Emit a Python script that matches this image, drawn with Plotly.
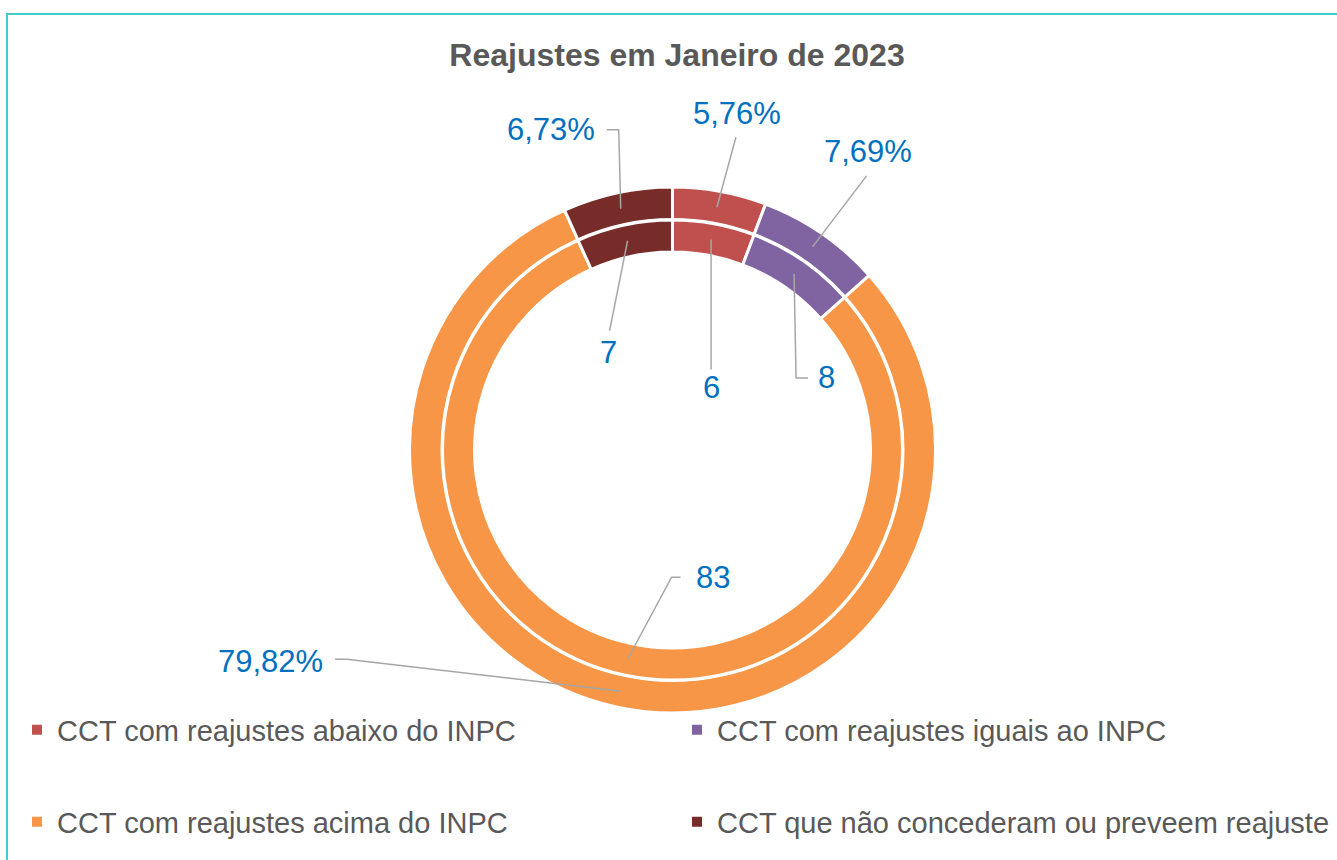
import math
import plotly.graph_objects as go

# ---------------- data ----------------
title_text = "Reajustes em Janeiro de 2023"
categories = [
    "CCT com reajustes abaixo do INPC",
    "CCT com reajustes iguais ao INPC",
    "CCT com reajustes acima do INPC",
    "CCT que não concederam ou preveem reajuste",
]
percent_values = [5.76, 7.69, 79.82, 6.73]
percent_labels = ["5,76%", "7,69%", "79,82%", "6,73%"]
count_values = [6, 8, 83, 7]
count_labels = ["6", "8", "83", "7"]
colors = ["#C0504D", "#8064A2", "#F79646", "#772C2A"]

# ---------------- layout constants ----------------
W, H = 1337, 860
CX, CY = 672.5, 450
LINE_W = 3
R_OUT, R_OUT_HOLE = 263, 230.5
R_IN, R_IN_HOLE = 230, 198
LABEL_COLOR = "#0070C0"
LEADER_COLOR = "#A6A6A6"
TEXT_GRAY = "#595959"
FONT = "Liberation Sans, Arial, sans-serif"


def fx(p):
    return p / W


def fy(p):
    return 1 - p / H


def ring_anchor(values, idx, r):
    total = sum(values)
    cum = sum(values[:idx]) + values[idx] / 2
    theta = 2 * math.pi * cum / total
    return CX + r * math.sin(theta), CY - r * math.cos(theta)


fig = go.Figure()

fig.add_trace(go.Pie(
    values=percent_values, labels=categories, text=percent_labels,
    marker=dict(colors=colors, line=dict(color="white", width=LINE_W)),
    hole=R_OUT_HOLE / R_OUT, sort=False, direction="clockwise", rotation=0,
    textinfo="none", hoverinfo="label+text", showlegend=False,
    domain=dict(x=[fx(CX - R_OUT), fx(CX + R_OUT)], y=[fy(CY + R_OUT), fy(CY - R_OUT)]),
))
fig.add_trace(go.Pie(
    values=count_values, labels=categories, text=count_labels,
    marker=dict(colors=colors, line=dict(color="white", width=LINE_W)),
    hole=R_IN_HOLE / R_IN, sort=False, direction="clockwise", rotation=0,
    textinfo="none", hoverinfo="label+text", showlegend=False,
    domain=dict(x=[fx(CX - R_IN), fx(CX + R_IN)], y=[fy(CY + R_IN), fy(CY - R_IN)]),
))

# leader lines / labels (offsets in pixels from the slice anchor)
outer_leaders = [
    dict(path=[(19, -70)], label=(20, -94), xanchor="center"),
    dict(path=[(54, -71)], label=(55, -95), xanchor="center"),
    dict(path=[(-274, -32), (-286, -32)], label=(-296, -30), xanchor="right"),
    dict(path=[(-2, -79), (-14, -79)], label=(-24, -79), xanchor="right"),
]
inner_leaders = [
    dict(path=[(0, 130)], label=(0, 148), xanchor="center"),
    dict(path=[(2, 104), (14, 104)], label=(22, 104), xanchor="left"),
    dict(path=[(44, -82), (53, -82)], label=(66, -82), xanchor="left"),
    dict(path=[(-18, 90)], label=(-19, 112), xanchor="center"),
]

shapes = []
annotations = []
for values, labels, leaders, rmid in [
    (percent_values, percent_labels, outer_leaders, (R_OUT + R_OUT_HOLE) / 2),
    (count_values, count_labels, inner_leaders, (R_IN + R_IN_HOLE) / 2),
]:
    for i, spec in enumerate(leaders):
        ax_, ay_ = ring_anchor(values, i, rmid)
        pts = [(ax_, ay_)] + [(ax_ + dx, ay_ + dy) for dx, dy in spec["path"]]
        path = "M " + " L ".join(f"{fx(x):.5f},{fy(y):.5f}" for x, y in pts)
        shapes.append(dict(type="path", xref="paper", yref="paper", path=path,
                           line=dict(color=LEADER_COLOR, width=1.5)))
        lx, ly = ax_ + spec["label"][0], ay_ + spec["label"][1]
        annotations.append(dict(
            text=labels[i], x=fx(lx), y=fy(ly), xref="paper", yref="paper",
            xanchor=spec["xanchor"], yanchor="middle", showarrow=False,
            font=dict(family=FONT, size=31, color=LABEL_COLOR)))

# chart border
shapes.append(dict(type="rect", xref="paper", yref="paper",
                   x0=fx(7), x1=fx(W + 40), y0=fy(H + 40), y1=fy(14),
                   line=dict(color="#44CCCC", width=2)))

# legend entries (one legend per entry for exact placement)
legend_pos = [(17, 730), (677, 730), (17, 822), (677, 822)]
legend_keys = ["legend", "legend2", "legend3", "legend4"]
legend_layout = {}
for i, name in enumerate(categories):
    fig.add_trace(go.Scatter(
        x=[None], y=[None], mode="markers", name=name,
        marker=dict(symbol="square", size=10, color=colors[i]),
        legend=legend_keys[i], showlegend=True, hoverinfo="skip"))
    px_, py_ = legend_pos[i]
    legend_layout[legend_keys[i]] = dict(
        x=fx(px_), y=fy(py_), xanchor="left", yanchor="middle",
        font=dict(family=FONT, size=29, color=TEXT_GRAY),
        bgcolor="rgba(0,0,0,0)", borderwidth=0, itemwidth=30)

fig.update_layout(
    width=W, height=H,
    margin=dict(l=0, r=0, t=0, b=0),
    paper_bgcolor="white", plot_bgcolor="white",
    title=dict(text=f"<b>{title_text}</b>", x=fx(677), y=fy(55),
               xanchor="center", yanchor="middle",
               font=dict(family=FONT, size=32, color=TEXT_GRAY)),
    xaxis=dict(visible=False), yaxis=dict(visible=False),
    shapes=shapes, annotations=annotations,
    **legend_layout,
)

fig.write_html("out.html", config={"displayModeBar": False},
               post_script="document.body.style.margin='0';")
